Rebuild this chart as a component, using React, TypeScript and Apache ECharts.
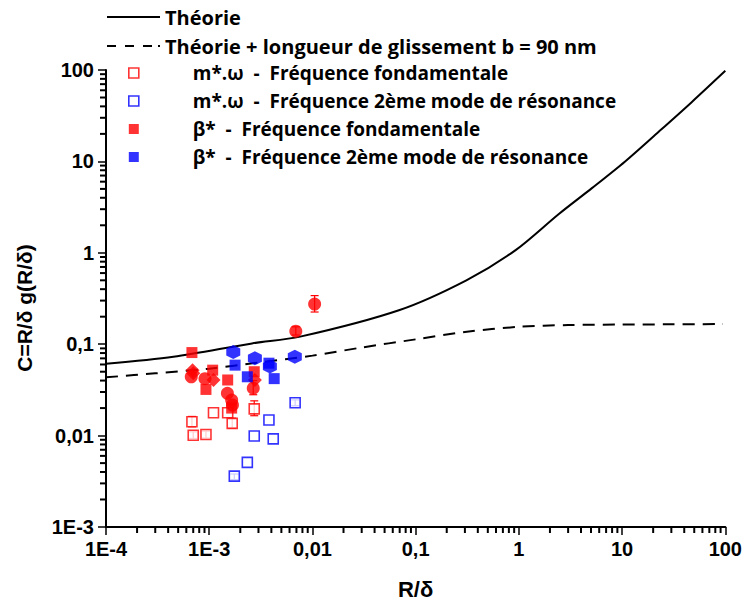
import React, { useEffect, useRef } from 'react';
import * as echarts from 'echarts';

// ---- Theoretical curves ----
const theoryX = [1e-4, 4.5e-4, 2.6e-3, 7.6e-3, 0.07, 0.31, 0.93, 2.44, 5.1, 10.7, 22.5, 47.2, 100];
const theoryY = [0.061, 0.073, 0.102, 0.121, 0.237, 0.5, 1.07, 2.66, 5.1, 10.0, 21.0, 44.5, 98];
const slipX = [1e-4, 3e-4, 1e-3, 3e-3, 1e-2, 3e-2, 0.1, 0.3, 1, 3, 10, 30, 95];
const slipY = [0.0434, 0.048, 0.054, 0.063, 0.075, 0.092, 0.113, 0.136, 0.155, 0.162, 0.164, 0.165, 0.166];

// ---- m*.omega (open squares) ----
const mwFundRed: number[][] = [
  [6.8e-4, 0.0142], [7.0e-4, 0.0101], [9.3e-4, 0.0103], [1.1e-3, 0.0178],
  [1.51e-3, 0.0178], [1.67e-3, 0.0136], [2.73e-3, 0.0196],
];
const mwModeBlue: number[][] = [
  [1.75e-3, 0.0036], [2.34e-3, 0.0051], [2.73e-3, 0.0099], [3.79e-3, 0.0148],
  [4.17e-3, 0.0092], [6.8e-3, 0.0229],
];
// ---- beta* (filled markers) ----
const betaFundSquares: number[][] = [
  [6.8e-4, 0.081], [9.3e-4, 0.032], [1.08e-3, 0.052], [1.51e-3, 0.0406],
  [1.65e-3, 0.02], [2.73e-3, 0.05],
];
const betaFundCircles: number[][] = [
  [6.7e-4, 0.044], [9.1e-4, 0.042], [1.5e-3, 0.029], [1.65e-3, 0.0245],
  [1.68e-3, 0.0216], [2.67e-3, 0.033], [6.9e-3, 0.139], [0.0105, 0.275],
];
const betaFundDiamonds: number[][] = [
  [6.9e-4, 0.052], [7.0e-4, 0.048], [1.1e-3, 0.0406], [2.77e-3, 0.0406],
];
const betaModeSquares: number[][] = [
  [1.78e-3, 0.059], [2.34e-3, 0.044], [3.79e-3, 0.062], [4.26e-3, 0.042],
];
const betaModeHex: number[][] = [
  [1.71e-3, 0.082], [2.77e-3, 0.07], [3.87e-3, 0.057], [6.75e-3, 0.073],
];
// ---- error bars [x, low, high] ----
const errRed: number[][] = [
  [6.8e-4, 0.0125, 0.0162], [7.0e-4, 0.0093, 0.011], [9.3e-4, 0.0094, 0.0112],
  [1.67e-3, 0.0121, 0.0155], [2.73e-3, 0.0165, 0.024], [0.0105, 0.225, 0.34],
  [6.9e-3, 0.126, 0.155], [2.67e-3, 0.028, 0.04],
];
const errBlue: number[][] = [[6.8e-3, 0.0212, 0.0246], [1.75e-3, 0.0033, 0.0038]];

// ---- axes ----
const xDecades = [1e-4, 1e-3, 1e-2, 0.1, 1, 10, 100];
const xTickLabels = ['1E-4', '1E-3', '0,01', '0,1', '1', '10', '100'];
const yDecades = [1e-3, 1e-2, 0.1, 1, 10, 100];
const yTickLabels = ['1E-3', '0,01', '0,1', '1', '10', '100'];
const minorMultipliers = [2, 3, 4, 5, 6, 7, 8, 9];

const NAME_TH = 'Théorie';
const NAME_SLIP = 'Théorie + longueur de glissement b = 90 nm';
const NAME_MW_F = 'm*.ω  -  Fréquence fondamentale';
const NAME_MW_2 = 'm*.ω  -  Fréquence 2ème mode de résonance';
const NAME_B_F = 'β*  -  Fréquence fondamentale';
const NAME_B_2 = 'β*  -  Fréquence 2ème mode de résonance';
const Y_TITLE = 'C=R/δ g(R/δ)';
const X_TITLE = 'R/δ';

const RED = '#ff0000';
const BLUE = '#0000ff';
const HEX = 'path://M0,-10L8.66,-5L8.66,5L0,10L-8.66,5L-8.66,-5Z';
const SOLID_ICON = 'path://M0,0H53V2H0Z';
const DASH_ICON = 'path://M0,0H9V2H0Z M18,0H27V2H18Z M36,0H45V2H36Z M51,0H53V2H51Z';

export default function App() {
  const ref = useRef<HTMLDivElement>(null);
  useEffect(() => {
    if (!ref.current) return;
    const chart = echarts.init(ref.current, null, { renderer: 'svg' });
    const xMin = xDecades[0], xMax = xDecades[xDecades.length - 1];
    const yMin = yDecades[0], yMax = yDecades[yDecades.length - 1];
    const xMinorVals: number[] = [];
    xDecades.slice(0, -1).forEach((d) => minorMultipliers.forEach((m) => xMinorVals.push(d * m)));
    const yMinorVals: number[] = [];
    yDecades.slice(0, -1).forEach((d) => minorMultipliers.forEach((m) => yMinorVals.push(d * m)));

    const zip = (xs: number[], ys: number[]) => xs.map((x, i) => [x, ys[i]]);
    const errRender = (params: any, api: any) => {
      const x = api.value(0);
      const lo = api.coord([x, api.value(1)]);
      const hi = api.coord([x, api.value(2)]);
      const c = 4;
      const style = { stroke: api.visual('color'), lineWidth: 1.2, fill: null };
      return {
        type: 'group',
        children: [
          { type: 'line', shape: { x1: lo[0], y1: lo[1], x2: hi[0], y2: hi[1] }, style },
          { type: 'line', shape: { x1: lo[0] - c, y1: lo[1], x2: lo[0] + c, y2: lo[1] }, style },
          { type: 'line', shape: { x1: hi[0] - c, y1: hi[1], x2: hi[0] + c, y2: hi[1] }, style },
        ],
      };
    };

    const tickFont = { fontFamily: 'Liberation Sans, Arial, sans-serif', fontWeight: 'bold' as const, fontSize: 20, color: '#000' };
    const legendFont = { fontFamily: 'Open Sans, sans-serif', fontWeight: 'bold' as const, fontSize: 20, color: '#000', lineHeight: 20 };

    chart.setOption({
      animation: false,
      grid: { left: 106, right: 18, top: 70, bottom: 81, containLabel: false },
      legend: [
        {
          orient: 'vertical', left: 107, top: 7, padding: 0, itemWidth: 53, itemHeight: 2, itemGap: 9,
          textStyle: legendFont, selectedMode: false,
          data: [
            { name: NAME_TH, icon: SOLID_ICON, itemStyle: { color: '#000', borderWidth: 0 } },
            { name: NAME_SLIP, icon: DASH_ICON, itemStyle: { color: '#000', borderWidth: 0 } },
          ],
        },
        {
          orient: 'vertical', left: 128, top: 63, padding: 0, itemWidth: 10, itemHeight: 10, itemGap: 8,
          textStyle: { ...legendFont, fontSize: 19, padding: [0, 0, 0, 49] }, selectedMode: false,
          data: [
            { name: NAME_MW_F, icon: 'rect', itemStyle: { color: '#fff', borderColor: RED, borderWidth: 1.6 } },
            { name: NAME_MW_2, icon: 'rect', itemStyle: { color: '#fff', borderColor: BLUE, borderWidth: 1.6 } },
            { name: NAME_B_F, icon: 'rect', itemStyle: { color: RED, borderWidth: 0 } },
            { name: NAME_B_2, icon: 'rect', itemStyle: { color: BLUE, borderWidth: 0 } },
          ],
        },
      ],
      xAxis: {
        type: 'log', logBase: 10, min: xMin, max: xMax, interval: 1,
        name: X_TITLE, nameLocation: 'middle', nameGap: 51,
        nameTextStyle: { ...tickFont, fontSize: 22 },
        axisLine: { lineStyle: { color: '#000', width: 2 } },
        axisTick: { inside: false, length: 8, lineStyle: { color: '#000', width: 1.5 } },
        axisLabel: {
          ...tickFont, margin: 12,
          formatter: (v: number) => xTickLabels[Math.round(Math.log10(v)) + 4] ?? '',
        },
        splitLine: { show: false },
      },
      yAxis: {
        type: 'log', logBase: 10, min: yMin, max: yMax, interval: 1,
        axisLine: { lineStyle: { color: '#000', width: 2 } },
        axisTick: { inside: false, length: 8, lineStyle: { color: '#000', width: 1.5 } },
        axisLabel: {
          ...tickFont, margin: 12,
          formatter: (v: number) => yTickLabels[Math.round(Math.log10(v)) + 3] ?? '',
        },
        splitLine: { show: false },
      },
      series: [
        {
          type: 'line', name: NAME_TH, data: zip(theoryX, theoryY), smooth: 0.3, symbol: 'none',
          lineStyle: { color: '#000', width: 2 }, itemStyle: { color: '#000' }, z: 3,
        },
        {
          type: 'line', name: NAME_SLIP, data: zip(slipX, slipY), smooth: 0.3, symbol: 'none',
          lineStyle: { color: '#000', width: 2, type: [12, 8] }, itemStyle: { color: '#000' }, z: 3,
        },
        {
          type: 'scatter', name: NAME_MW_F, data: mwFundRed, symbol: 'rect', symbolSize: 10,
          itemStyle: { color: '#fff', borderColor: RED, borderWidth: 1.6 }, z: 4,
        },
        {
          type: 'scatter', name: NAME_MW_2, data: mwModeBlue, symbol: 'rect', symbolSize: 10,
          itemStyle: { color: '#fff', borderColor: BLUE, borderWidth: 1.6 }, z: 4,
        },
        { type: 'scatter', name: NAME_B_F, data: betaFundSquares, symbol: 'rect', symbolSize: 11, itemStyle: { color: RED }, z: 5 },
        { type: 'scatter', name: NAME_B_F, data: betaFundCircles, symbol: 'circle', symbolSize: 13, itemStyle: { color: RED }, z: 5 },
        { type: 'scatter', name: NAME_B_F, data: betaFundDiamonds, symbol: 'diamond', symbolSize: 14, itemStyle: { color: RED }, z: 5 },
        { type: 'scatter', name: NAME_B_2, data: betaModeSquares, symbol: 'rect', symbolSize: 11, itemStyle: { color: BLUE }, z: 5 },
        { type: 'scatter', name: NAME_B_2, data: betaModeHex, symbol: HEX, symbolSize: 14, itemStyle: { color: BLUE }, z: 5 },
        { type: 'custom', name: 'errRed', data: errRed, renderItem: errRender, itemStyle: { color: RED }, encode: { x: 0, y: [1, 2] }, silent: true, z: 4 },
        { type: 'custom', name: 'errBlue', data: errBlue, renderItem: errRender, itemStyle: { color: BLUE }, encode: { x: 0, y: [1, 2] }, silent: true, z: 4 },
      ],
    });

    // y title + minor ticks (2..9 in every decade), positioned through the axes' own scales
    const graphics: any[] = [
      {
        type: 'text', x: 24, y: 308, rotation: Math.PI / 2,
        style: { text: Y_TITLE, fontFamily: tickFont.fontFamily, fontWeight: 'bold', fontSize: 21, fill: '#000', align: 'center', verticalAlign: 'middle' },
      },
    ];
    xMinorVals.forEach((v) => {
      const p = chart.convertToPixel({ gridIndex: 0 }, [v, yMin]) as any;
      if (p) graphics.push({ type: 'line', z: 10, shape: { x1: p[0], y1: p[1], x2: p[0], y2: p[1] + 6 }, style: { stroke: '#000', lineWidth: 2 } });
    });
    yMinorVals.forEach((v) => {
      const p = chart.convertToPixel({ gridIndex: 0 }, [xMin, v]) as any;
      if (p) graphics.push({ type: 'line', z: 10, shape: { x1: p[0], y1: p[1], x2: p[0] - 6, y2: p[1] }, style: { stroke: '#000', lineWidth: 2 } });
    });
    chart.setOption({ graphic: graphics });

    return () => chart.dispose();
  }, []);
  return <div ref={ref} style={{ width: 745, height: 608, position: 'absolute', left: 0, top: 0 }} />;
}
